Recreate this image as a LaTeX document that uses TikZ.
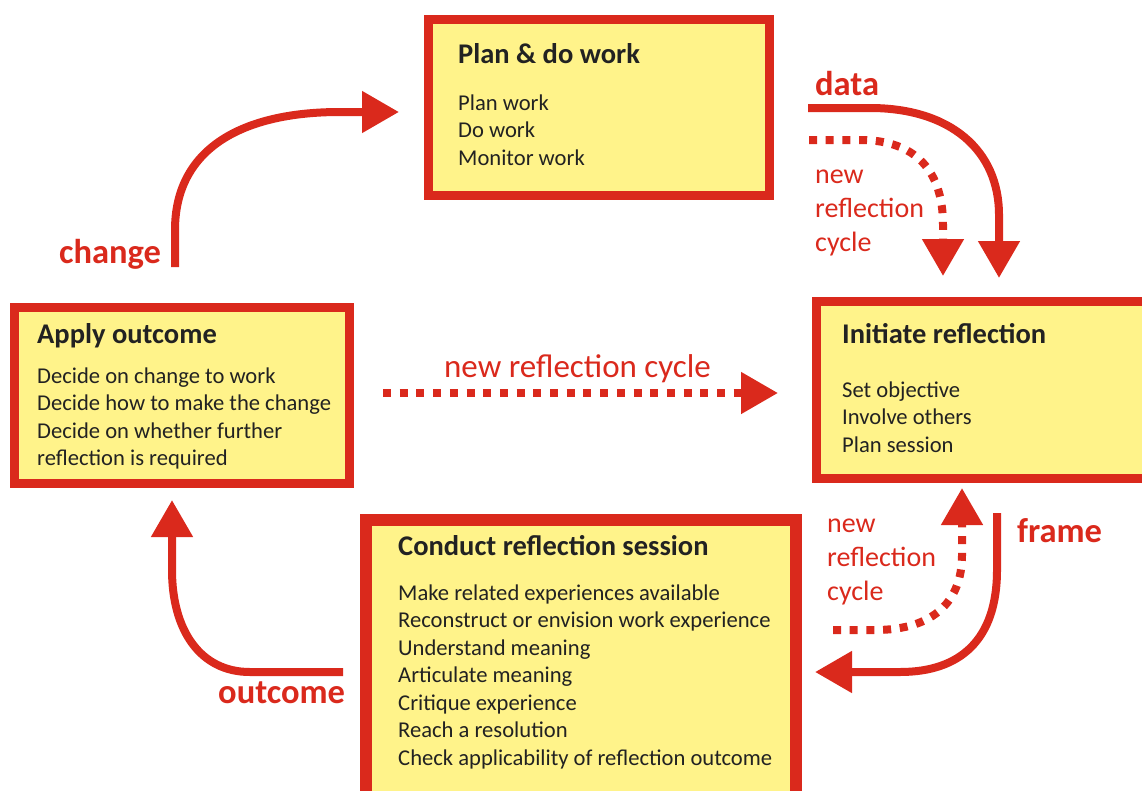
\documentclass[tikz,border=0pt]{standalone}
\usepackage{fontspec}
\setmainfont{Carlito}
\usetikzlibrary{arrows.meta}

\definecolor{refRed}{RGB}{218,41,28}
\definecolor{noteYellow}{RGB}{255,243,138}
\definecolor{inkGray}{RGB}{34,34,34}

\tikzset{
  stage/.style={draw=refRed, fill=noteYellow, line width=9pt, inner sep=0pt},
  stageTitle/.style={anchor=base west, text=inkGray, inner sep=0pt,
    font=\fontsize{28.5}{33}\selectfont\bfseries},
  % multi-line nodes: base is the last line
  stageItems/.style={anchor=base west, text=inkGray, align=left, inner sep=0pt,
    font=\fontsize{22.6}{27.5}\selectfont},
  flowLabel/.style={anchor=base west, text=refRed, inner sep=0pt,
    font=\fontsize{34.5}{40}\selectfont\bfseries},
  cycleLabel/.style={anchor=base west, text=refRed, align=left, inner sep=0pt,
    font=\fontsize{28}{34}\selectfont},
  flow/.style={draw=refRed, line width=8pt, -{Triangle[length=37pt,width=40pt]}},
  cycleFlow/.style={flow, dash pattern=on 8pt off 8.7pt},
}

\begin{document}
\begin{tikzpicture}[x=1pt, y=-1pt]
        \useasboundingbox (0, 0) rectangle (1142, 790);
        \clip (0, 0) rectangle (1142, 790);

        % the four stages
        \node[stage, minimum width=341, minimum height=176] (plan) at (598.5, 107) {};
        \node[stage, minimum width=339, minimum height=177] (initiate) at (986, 390) {};
        \node[stage, line width=12pt, minimum width=430, minimum height=284] (conduct) at (581, 662) {};
        \node[stage, minimum width=335, minimum height=176] (apply) at (182, 395.5) {};

        \node[stageTitle] (planTitle) at (458, 63) {Plan \& do work};
        \node[stageItems] (planItems) at (458, 165) {Plan work\\Do work\\Monitor work};
        \node[stageTitle] (initiateTitle) at (842, 343) {Initiate reflection};
        \node[stageItems] (initiateItems) at (842, 452) {Set objective\\Involve others\\Plan session};
        \node[stageTitle] (conductTitle) at (398, 555) {Conduct reflection session};
        \node[stageItems] (conductItems) at (398, 765) {Make related experiences available\\
            Reconstruct or envision work experience\\Understand meaning\\Articulate meaning\\
            Critique experience\\Reach a resolution\\Check applicability of reflection outcome};
        \node[stageTitle] (applyTitle) at (37, 343) {Apply outcome};
        \node[stageItems] (applyItems) at (37, 465.5) {Decide on change to work\\
            Decide how to make the change\\Decide on whether further\\reflection is required};

        % arrow ends
        \coordinate (changeStart) at (175, 267);
        \coordinate (changeEnd) at (399, 112);
        \coordinate (dataStart) at (808, 108);
        \coordinate (dataEnd) at (999, 278);
        \coordinate (topCycleStart) at (809, 140);
        \coordinate (topCycleEnd) at (943, 276);
        \coordinate (midCycleStart) at (383, 393);
        \coordinate (midCycleEnd) at (778, 393);
        \coordinate (frameStart) at (997, 513);
        \coordinate (frameEnd) at (815, 672);
        \coordinate (lowCycleStart) at (833, 630);
        \coordinate (lowCycleEnd) at (962, 488);
        \coordinate (outcomeStart) at (343, 672);
        \coordinate (outcomeEnd) at (172, 500);

        \draw[flow] (changeStart) -- (175, 230) .. controls (175, 150) and (240, 112) .. (340, 112) -- (changeEnd);
        \draw[flow] (dataStart) -- (870, 108) .. controls (950, 108) and (999, 150) .. (999, 215) -- (dataEnd);
        \draw[cycleFlow] (topCycleStart) -- (860, 140) .. controls (915, 140) and (943, 170) .. (943, 225) -- (topCycleEnd);
        \draw[cycleFlow] (midCycleStart) -- (midCycleEnd);
        \draw[flow] (frameStart) -- (997, 570) .. controls (997, 640) and (960, 672) .. (900, 672) -- (frameEnd);
        \draw[cycleFlow] (lowCycleStart) -- (875, 630) .. controls (935, 630) and (962, 600) .. (962, 555) -- (lowCycleEnd);
        \draw[flow] (outcomeStart) -- (250, 672) .. controls (200, 672) and (172, 630) .. (172, 570) -- (outcomeEnd);

        % labels on the arrows
        \node[flowLabel] (changeLabel) at (59, 263) {change};
        \node[flowLabel] (dataLabel) at (815, 95) {data};
        \node[flowLabel] (frameLabel) at (1017, 542) {frame};
        \node[flowLabel] (outcomeLabel) at (218, 703) {outcome};
        \node[cycleLabel] (topCycleLabel) at (815, 251) {new\\reflection\\cycle};
        \node[cycleLabel] (lowCycleLabel) at (827, 600) {new\\reflection\\cycle};
        \node[cycleLabel, anchor=base, font=\fontsize{33}{38}\selectfont] (midCycleLabel) at (577.5, 377) {new reflection cycle};
    \end{tikzpicture}
\end{document}
